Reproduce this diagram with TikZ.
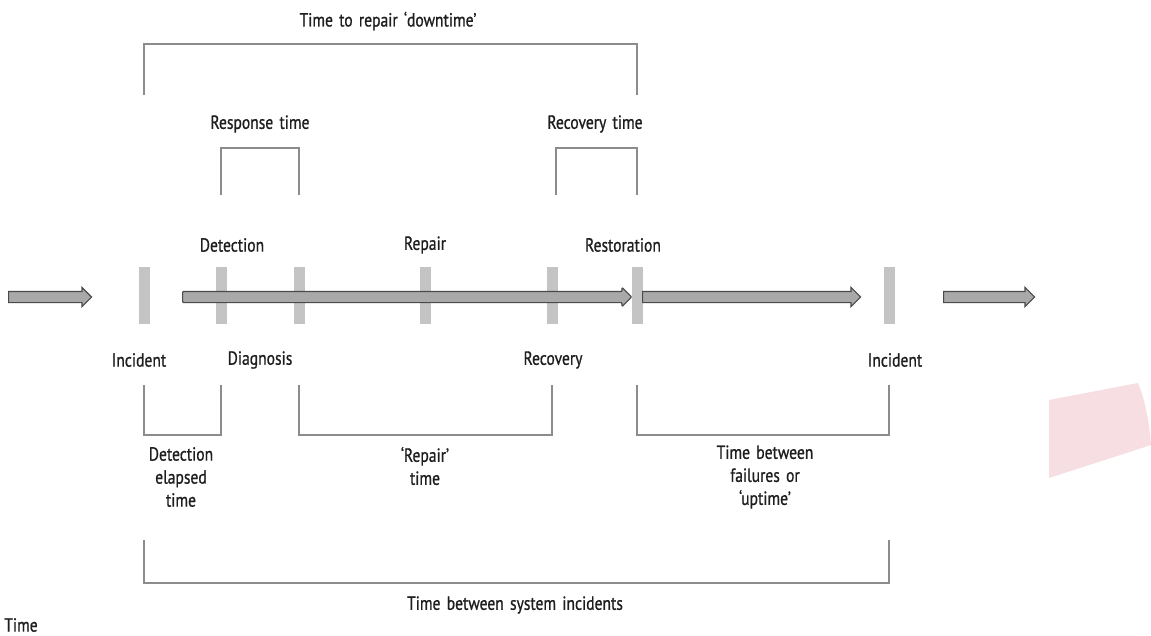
\documentclass[tikz,border=0pt]{standalone}
\usepackage{fontspec}
\setmainfont{PT Sans}[FakeStretch=0.82, FakeBold=0.8, WordSpace=1.5]
\usetikzlibrary{shapes.arrows}
\definecolor{barc}{HTML}{C4C4C4}
\definecolor{arrf}{HTML}{A9A9A9}
\definecolor{arrd}{HTML}{4A4A4A}
\definecolor{brkc}{HTML}{8C8C8C}
\definecolor{pinkc}{HTML}{F6DEE3}
\definecolor{txtc}{HTML}{1E1E1E}
\begin{document}
\begin{tikzpicture}[x=1pt,y=-1pt,
  bar/.style={fill=barc, draw=none, minimum width=11pt, minimum height=57pt, inner sep=0pt},
  garrow/.style={single arrow, fill=arrf, draw=arrd, line width=1.2pt, minimum height=#1, inner sep=5pt, single arrow head extend=4pt, anchor=tail},
  brk/.style={draw=brkc, line width=2.6pt},
  lbl/.style={font=\fontsize{19}{23}\selectfont, text=txtc, inner sep=0pt, align=center}
]
\useasboundingbox[fill=white] (0,0) rectangle (1151,635);
% pink shape
\fill[pinkc] (1049,400) -- (1138,383) .. controls (1145,400) and (1149,420) .. (1151,445) -- (1049,478) -- cycle;
% bars
\node[bar] (b1) at (144,295.5) {};
\node[bar] (b2) at (221,295.5) {};
\node[bar] (b3) at (299,295.5) {};
\node[bar] (b4) at (425,295.5) {};
\node[bar] (b5) at (552,295.5) {};
\node[bar] (b6) at (637,295.5) {};
\node[bar] (b7) at (889,295.5) {};
% arrows
\node[garrow=83pt] (a1) at (8,297) {};
\node[garrow=449pt, rounded corners=1pt] (a2) at (182,297) {};
\node[garrow=218pt] (a3) at (642,297) {};
\node[garrow=91pt] (a4) at (943,297) {};
% labels
\node[lbl] (ttr) at (388,21) {Time to repair ‘downtime’};
\node[lbl] (rspt) at (260,124) {Response time};
\node[lbl] (rcvt) at (595,124) {Recovery time};
\node[lbl] (ldet) at (232,245) {Detection};
\node[lbl] (lrep) at (425,245) {Repair};
\node[lbl] (lres) at (623,245) {Restoration};
\node[lbl] (linc1) at (139,360) {Incident};
\node[lbl] (ldia) at (260,360) {Diagnosis};
\node[lbl] (lrec) at (553,360) {Recovery};
\node[lbl] (linc2) at (895,360) {Incident};
\node[lbl] (ldel) at (181,477) {Detection\\elapsed\\time};
\node[lbl] (lrt) at (425,466) {‘Repair’\\time};
\node[lbl] (ltbf) at (765,477) {Time between\\failures or\\‘uptime’};
\node[lbl] (ltsi) at (515,605) {Time between system incidents};
\node[lbl] (ltime) at (21,625) {Time};
% brackets
\draw[brk] (b1.center |- 0,95) |- (b6.center |- 0,44) -- (b6.center |- 0,95);
\draw[brk] (b2.center |- 0,195) |- (b3.center |- 0,148) -- (b3.center |- 0,195);
\draw[brk] (556,195) |- (b6.center |- 0,148) -- (b6.center |- 0,195);
\draw[brk] (b1.center |- 0,385) |- (b2.center |- 0,435) -- (b2.center |- 0,385);
\draw[brk] (b3.center |- 0,385) |- (b5.center |- 0,435) -- (b5.center |- 0,385);
\draw[brk] (b6.center |- 0,385) |- (b7.center |- 0,435) -- (b7.center |- 0,385);
\draw[brk] (b1.center |- 0,540) |- (b7.center |- 0,583) -- (b7.center |- 0,540);
\end{tikzpicture}
\end{document}
